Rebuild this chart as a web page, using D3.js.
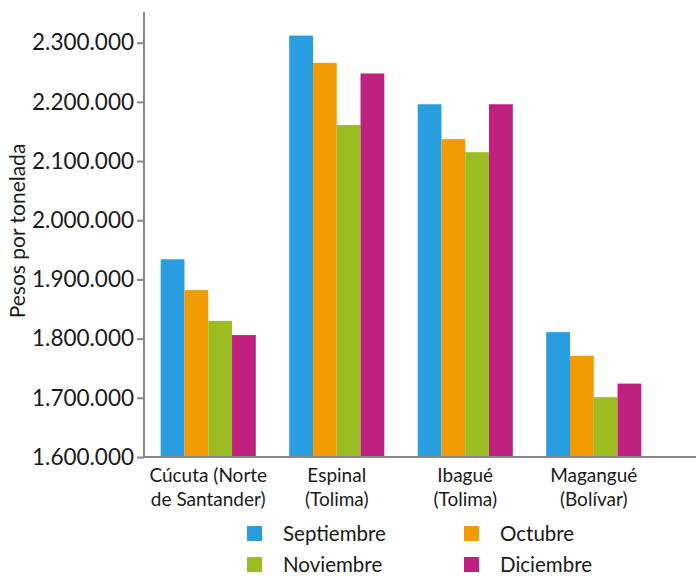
<!DOCTYPE html>
<html><head><meta charset="utf-8">
<script src="https://cdn.jsdelivr.net/npm/d3@7"></script>
<style>body{margin:0;background:#fff}svg{display:block}text{font-family:Lato,"Noto Sans",sans-serif;fill:#1a1a1a}</style>
</head><body><svg id="c" width="696" height="578"></svg>
<script>
const categories = [["Cúcuta (Norte","de Santander)"],["Espinal","(Tolima)"],["Ibagué","(Tolima)"],["Magangué","(Bolívar)"]];
const series = ["Septiembre","Octubre","Noviembre","Diciembre"];
const septiembre = [1934000, 2312000, 2196000, 1811000];
const octubre = [1882000, 2266000, 2137000, 1771000];
const noviembre = [1830000, 2161000, 2115000, 1701000];
const diciembre = [1806000, 2248000, 2196000, 1724000];
const values = [septiembre, octubre, noviembre, diciembre];
const colors = ["#289ddf","#f29b00","#9bbd22","#c02080"];
const yTicks = [1600000,1700000,1800000,1900000,2000000,2100000,2200000,2300000];
const yLabel = "Pesos por tonelada";

const svg = d3.select("#c");
const y = d3.scaleLinear().domain([1600000, 2300000]).range([457, 42.7]);
const x0 = d3.scaleBand().domain(d3.range(categories.length)).range([144, 658]).paddingInner(0.26).paddingOuter(0.13);
const x1 = d3.scaleBand().domain(d3.range(series.length)).range([0, x0.bandwidth()]);

// bars
series.forEach((s, si) => {
  svg.append("g").selectAll("rect").data(values[si]).join("rect")
    .attr("x", (d, i) => x0(i) + x1(si))
    .attr("width", x1.bandwidth())
    .attr("y", d => y(d))
    .attr("height", d => y(1600000) - y(d))
    .attr("fill", colors[si]);
});

// y axis
const fmt = v => d3.format(",")(v).replace(/,/g, ".");
const ya = svg.append("g").attr("transform", "translate(144,0)")
  .call(d3.axisLeft(y).tickValues(yTicks).tickFormat(fmt).tickSize(7).tickSizeOuter(0));
ya.select(".domain").remove();
ya.selectAll(".tick line").attr("stroke", "#888").attr("stroke-width", 2);
ya.selectAll(".tick text").attr("font-size", 22.5).attr("fill", "#1a1a1a").attr("x", -10).attr("font-family", "Lato, sans-serif");
svg.append("line").attr("x1", 144).attr("x2", 144).attr("y1", 12).attr("y2", y(1600000)).attr("stroke", "#888").attr("stroke-width", 2);
svg.append("line").attr("x1", 143).attr("x2", 696).attr("y1", y(1600000)).attr("y2", y(1600000)).attr("stroke", "#888").attr("stroke-width", 2);

// category labels
categories.forEach((c, i) => {
  const t = svg.append("text").attr("text-anchor", "middle").attr("font-size", 19)
    .attr("x", x0(i) + x0.bandwidth() / 2);
  c.forEach((line, li) => t.append("tspan").attr("x", x0(i) + x0.bandwidth() / 2).attr("y", 482 + li * 24).text(line));
});

// y label
svg.append("text").attr("transform", "translate(25,231) rotate(-90)").attr("text-anchor", "middle")
  .attr("font-size", 21).text(yLabel);

// legend
const lx = [247, 464], ly = [526, 557];
series.forEach((s, i) => {
  const cx = lx[i % 2], cy = ly[Math.floor(i / 2)];
  svg.append("rect").attr("x", cx).attr("y", cy).attr("width", 15).attr("height", 15).attr("fill", colors[i]);
  svg.append("text").attr("x", cx + 36).attr("y", cy + 15).attr("font-size", 20.5).text(s);
});
</script></body></html>
